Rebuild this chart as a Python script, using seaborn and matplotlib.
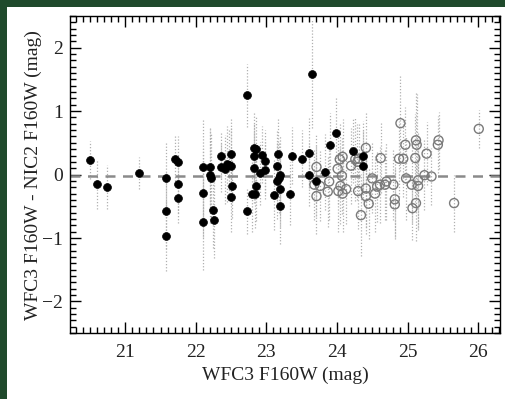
import numpy as np
import pandas as pd
import seaborn as sns
import matplotlib.pyplot as plt
from matplotlib.patches import Rectangle
from matplotlib.ticker import MultipleLocator

# bright sources (filled): WFC3 mag, WFC3 - NIC2 difference, error
bright_mag = [20.50, 20.60, 20.74, 21.20, 21.58, 21.58, 21.58, 21.70, 21.75, 21.75,
              21.75, 22.10, 22.10, 22.10, 22.20, 22.20, 22.21, 22.24, 22.26, 22.35,
              22.35, 22.41, 22.44, 22.50, 22.47, 22.50, 22.52, 22.50, 22.73, 22.73,
              22.82, 22.86, 22.82, 22.82, 22.86, 22.80, 22.84, 22.94, 22.98, 22.98,
              22.91, 23.16, 23.15, 23.20, 23.18, 23.15, 23.20, 23.11, 23.20, 23.37,
              23.34, 23.50, 23.61, 23.65, 23.61, 23.70, 23.83, 23.90, 23.98, 24.23,
              24.37, 24.37]
bright_diff = [0.23, -0.15, -0.20, 0.02, -0.06, -0.57, -0.97, 0.25, 0.20, -0.15,
               -0.37, 0.12, -0.29, -0.75, 0.12, -0.01, -0.06, -0.56, -0.71, 0.30,
               0.12, 0.08, 0.17, 0.33, 0.15, 0.14, -0.18, -0.36, 1.25, -0.58,
               0.42, 0.40, 0.29, 0.10, -0.18, -0.31, -0.30, 0.31, 0.21, 0.07,
               0.02, 0.32, 0.14, 0.00, -0.05, -0.10, -0.23, -0.32, -0.50, 0.30,
               -0.30, 0.25, 0.34, 1.58, 0.00, -0.10, 0.04, 0.47, 0.65, 0.37,
               0.30, 0.14]
bright_err = [0.30, 0.40, 0.35, 0.25, 0.55, 0.60, 0.55, 0.35, 0.40, 0.45,
              0.40, 0.75, 0.70, 0.75, 0.60, 0.75, 0.70, 0.60, 0.60, 0.35,
              0.40, 0.55, 0.60, 0.55, 0.55, 0.60, 0.50, 0.55, 0.50, 0.35,
              0.55, 0.50, 0.50, 0.55, 0.55, 0.60, 0.55, 0.45, 0.50, 0.45,
              0.50, 0.55, 0.55, 0.60, 0.55, 0.60, 0.60, 0.55, 0.60, 0.45,
              0.50, 0.45, 0.55, 0.85, 0.50, 0.55, 0.60, 0.50, 0.55, 0.50,
              0.55, 0.55]

# faint sources (open)
faint_mag = [23.71, 23.68, 23.76, 23.71, 23.89, 23.87, 24.01, 24.04, 24.08, 24.07,
             24.05, 24.02, 24.08, 24.13, 24.20, 24.26, 24.29, 24.31, 24.30, 24.41,
             24.41, 24.41, 24.45, 24.34, 24.50, 24.57, 24.61, 24.62, 24.54, 24.70,
             24.68, 24.80, 24.82, 24.82, 24.90, 24.97, 24.88, 24.94, 24.98, 25.06,
             25.07, 25.12, 25.12, 25.13, 25.11, 25.15, 25.15, 25.27, 25.24, 25.34,
             25.44, 25.43, 25.66, 26.01]
faint_diff = [0.12, -0.16, -0.18, -0.34, -0.11, -0.27, 0.09, 0.24, 0.28, -0.02,
              -0.18, -0.26, -0.30, -0.23, 0.14, 0.24, 0.20, 0.25, -0.26, 0.42,
              -0.22, -0.34, -0.46, -0.64, -0.06, -0.19, -0.16, 0.26, -0.30, -0.11,
              -0.16, -0.16, -0.39, -0.47, 0.81, 0.47, 0.25, 0.25, -0.06, -0.16,
              -0.53, -0.45, 0.54, 0.47, 0.26, -0.09, -0.18, 0.33, -0.01, -0.03,
              0.54, 0.47, -0.45, 0.72]
faint_err = [0.50, 0.55, 0.55, 0.60, 0.60, 0.55, 0.55, 0.55, 0.60, 0.60,
             0.60, 0.65, 0.60, 0.55, 0.60, 0.65, 0.60, 0.55, 0.60, 0.55,
             0.60, 0.60, 0.55, 0.65, 0.55, 0.55, 0.60, 0.55, 0.60, 0.60,
             0.55, 0.55, 0.60, 0.55, 0.75, 0.60, 0.60, 0.60, 0.65, 0.60,
             0.50, 0.60, 0.75, 0.80, 0.70, 0.75, 0.70, 0.50, 0.55, 0.45,
             0.45, 0.45, 0.45, 0.30]

bright = pd.DataFrame({"mag": bright_mag, "diff": bright_diff, "err": bright_err})
faint = pd.DataFrame({"mag": faint_mag, "diff": faint_diff, "err": faint_err})

sns.set_theme(style="ticks")
plt.rcParams["font.family"] = ["Liberation Serif", "DejaVu Serif"]
plt.rcParams["xtick.minor.visible"] = True
plt.rcParams["ytick.minor.visible"] = True

fig = plt.figure(figsize=(5.05, 3.99), dpi=100)
fig.patch.set_facecolor("#1f4a2c")
fig.patches.append(Rectangle((7 / 505, 0), 1, 1 - 7 / 399, transform=fig.transFigure,
                             facecolor="white", edgecolor="none", zorder=-1))
ax = fig.add_axes([0.139, 0.165, 0.851, 0.795])

# dotted error bars
for df in (faint, bright):
    ax.vlines(df["mag"], df["diff"] - df["err"], df["diff"] + df["err"],
              colors="#b0b0b0", linestyles=(0, (1, 1.5)), linewidth=0.9, zorder=1)

ax.axhline(-0.02, color="#8a8a8a", linestyle=(0, (4, 3)), linewidth=1.8, zorder=2)

sns.scatterplot(data=faint, x="mag", y="diff", ax=ax, marker="o", s=42,
                facecolor="none", edgecolor="#7a7a7a", linewidth=1.0, zorder=3)
sns.scatterplot(data=bright, x="mag", y="diff", ax=ax, marker="o", s=32,
                color="black", edgecolor="black", linewidth=0.5, zorder=4)

ax.set_xlim(20.22, 26.31)
ax.set_ylim(-2.5, 2.5)
ax.minorticks_on()
ax.xaxis.set_major_locator(MultipleLocator(1))
ax.xaxis.set_minor_locator(MultipleLocator(0.1))
ax.yaxis.set_major_locator(MultipleLocator(1))
ax.yaxis.set_minor_locator(MultipleLocator(0.1))
ax.tick_params(which="both", direction="in", top=True, right=True, color="black",
               labelsize=14, labelcolor="#222222")
ax.tick_params(which="major", length=8, width=1)
ax.tick_params(which="minor", length=4.5, width=1)
ax.tick_params(axis="x", which="major", pad=8)
ax.tick_params(axis="y", which="major", pad=5)
for s in ax.spines.values():
    s.set_color("black")
    s.set_linewidth(1)

ax.set_xlabel("WFC3 F160W (mag)", fontsize=14, color="#222222", labelpad=4)
ax.set_ylabel("WFC3 F160W - NIC2 F160W (mag)", fontsize=14, color="#222222", labelpad=0)

fig.savefig("out.png", dpi=100, facecolor=fig.get_facecolor())
plt.close(fig)
